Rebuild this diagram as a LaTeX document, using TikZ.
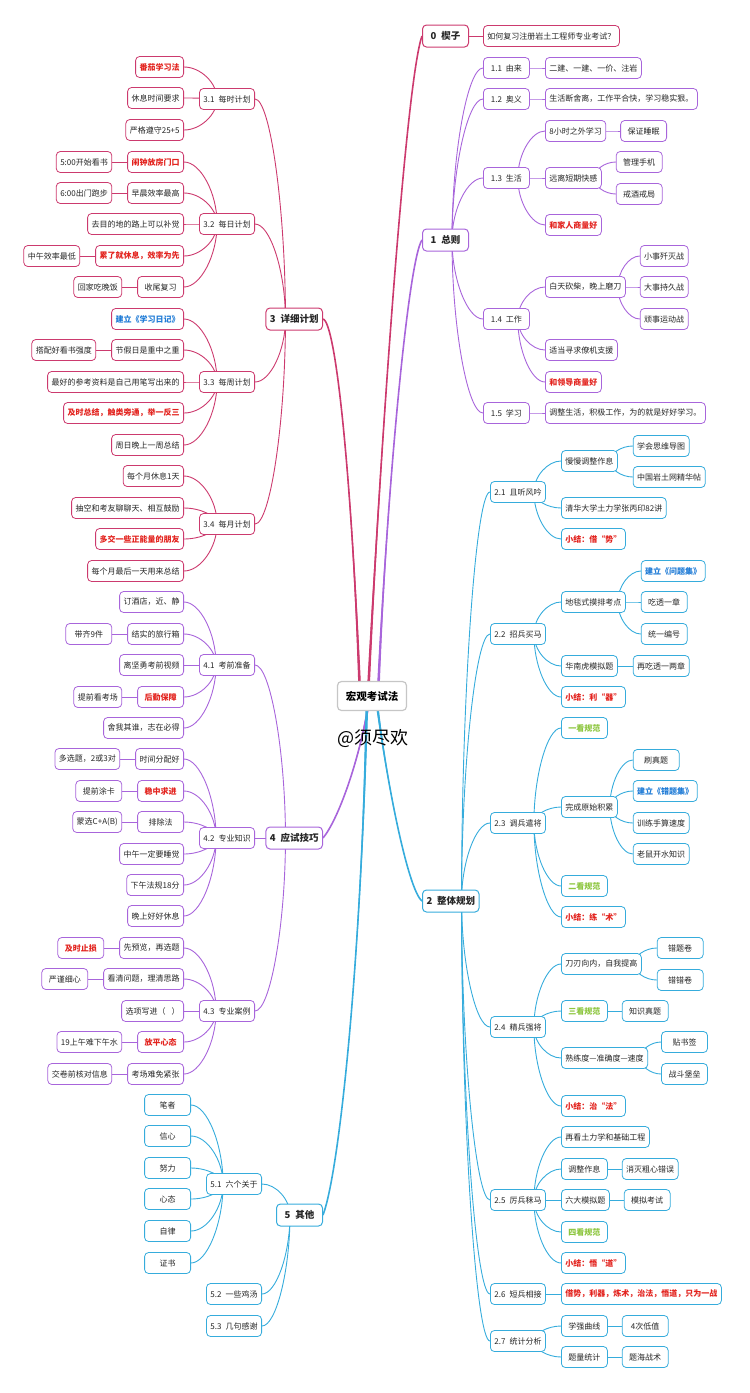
\documentclass[tikz,border=0pt]{standalone}
\usepackage{fontspec}
\setmainfont{Noto Sans CJK SC}
\usepackage{tikz}
\usetikzlibrary{positioning,calc,backgrounds}
\definecolor{rose}{HTML}{CC3A6E}
\definecolor{mauve}{HTML}{A865DB}
\definecolor{azur}{HTML}{36ACDC}
\definecolor{rouge}{HTML}{E3231E}
\definecolor{bleuT}{HTML}{1F7BD6}
\definecolor{vert}{HTML}{8DC63F}
\newcommand{\petit}{\fontsize{8}{9.5}\selectfont}
\tikzset{
  bloc/.style={rectangle, rounded corners=4pt, draw=#1, line width=0.8pt, fill=white,
               text=black!85, font=\petit, minimum height=21pt, minimum width=46pt, inner xsep=4pt},
  tete/.style={bloc=#1, line width=1pt, font=\fontsize{9.5}{10}\selectfont\bfseries, minimum height=22pt},
  centre/.style={rectangle, rounded corners=4pt, draw=gray!45, line width=1.2pt, fill=white,
               font=\fontsize{10.5}{11}\selectfont\bfseries, minimum width=69pt, minimum height=29pt},
  alerte/.style={text=rouge, font=\petit\bfseries},
  note/.style={text=bleuT, font=\petit\bfseries},
  norme/.style={text=vert, font=\petit\bfseries},
  lien/.style={draw=#1, line width=0.9pt, to path={let \p1=(\tikztostart), \p2=(\tikztotarget),
               \p3=($(\p1)!0.5!(\p2)$) in .. controls (\x1,\y3) and (\x3,\y2) .. (\tikztotarget)}},
}
% tronc effilé : couleur, départ, contrôle 1, contrôle 2, arrivée
\newcommand{\tronc}[5]{%
  \fill[#1] ($#2+(-1.4,0)$) .. controls #3 and #4 .. #5 .. controls #4 and #3 .. ($#2+(1.4,0)$) -- cycle;
  \draw[#1, line width=1.6pt] #2 .. controls #3 and #4 .. #5;}
\begin{document}
\begin{tikzpicture}[x=1pt, y=-1pt]
\useasboundingbox (0,0) rectangle (750,1393);
\node[centre] (racine) at (372,696) {宏观考试法};
\node[font=\fontsize{18}{18}\selectfont] (auteur) at (373,738) {@须尽欢};

% côté gauche
\begin{scope}[every node/.append style={anchor=east}]
  \node[tete=rose] (n3) at (323,319) {3\enspace 详细计划};
  \node[bloc=rose] (n31) at (255,99) {3.1\enspace 每时计划};
  \node[bloc=rose] (n32) at (255,224) {3.2\enspace 每日计划};
  \node[bloc=rose] (n33) at (255,382) {3.3\enspace 每周计划};
  \node[bloc=rose] (n34) at (255,524) {3.4\enspace 每月计划};
  \node[bloc=rose, alerte] (n31a) at (184,67) {番茄学习法};
  \node[bloc=rose] (n31b) at (184,98) {休息时间要求};
  \node[bloc=rose] (n31c) at (184,130) {严格遵守25+5};
  \node[bloc=rose, alerte] (n32a) at (184,162) {闹钟放房门口};
  \node[bloc=rose, left=15pt of n32a] (n32a1) {5:00开始看书};
  \node[bloc=rose] (n32b) at (184,193) {早晨效率最高};
  \node[bloc=rose, left=15pt of n32b] (n32b1) {6:00出门跑步};
  \node[bloc=rose] (n32c) at (184,224) {去目的地的路上可以补觉};
  \node[bloc=rose, alerte] (n32d) at (184,256) {累了就休息，效率为先};
  \node[bloc=rose, left=15pt of n32d] (n32d1) {中午效率最低};
  \node[bloc=rose] (n32e) at (184,287) {收尾复习};
  \node[bloc=rose, left=15pt of n32e] (n32e1) {回家吃晚饭};
  \node[bloc=rose, note] (n33a) at (184,319) {建立《学习日记》};
  \node[bloc=rose] (n33b) at (184,350) {节假日是重中之重};
  \node[bloc=rose, left=15pt of n33b] (n33b1) {搭配好看书强度};
  \node[bloc=rose] (n33c) at (184,382) {最好的参考资料是自己用笔写出来的};
  \node[bloc=rose, alerte] (n33d) at (184,413) {及时总结，触类旁通，举一反三};
  \node[bloc=rose] (n33e) at (184,445) {周日晚上一周总结};
  \node[bloc=rose] (n34a) at (184,476) {每个月休息1天};
  \node[bloc=rose] (n34b) at (184,508) {抽空和考友聊聊天、相互鼓励};
  \node[bloc=rose, alerte] (n34c) at (184,539) {多交一些正能量的朋友};
  \node[bloc=rose] (n34d) at (184,571) {每个月最后一天用来总结};

  \node[tete=mauve] (n4) at (323,838) {4\enspace 应试技巧};
  \node[bloc=mauve] (n41) at (255,665) {4.1\enspace 考前准备};
  \node[bloc=mauve] (n42) at (255,838) {4.2\enspace 专业知识};
  \node[bloc=mauve] (n43) at (255,1011) {4.3\enspace 专业案例};
  \node[bloc=mauve] (n41a) at (184,602) {订酒店，近、静};
  \node[bloc=mauve] (n41b) at (184,634) {结实的旅行箱};
  \node[bloc=mauve, left=15pt of n41b] (n41b1) {带齐9件};
  \node[bloc=mauve] (n41c) at (184,665) {离坚勇考前视频};
  \node[bloc=mauve, alerte] (n41d) at (184,697) {后勤保障};
  \node[bloc=mauve, left=15pt of n41d] (n41d1) {提前看考场};
  \node[bloc=mauve] (n41e) at (184,728) {舍我其谁，志在必得};
  \node[bloc=mauve] (n42a) at (184,759) {时间分配好};
  \node[bloc=mauve, left=15pt of n42a] (n42a1) {多选题，2或3对};
  \node[bloc=mauve, alerte] (n42b) at (184,791) {稳中求进};
  \node[bloc=mauve, left=15pt of n42b] (n42b1) {提前涂卡};
  \node[bloc=mauve] (n42c) at (184,822) {排除法};
  \node[bloc=mauve, left=15pt of n42c] (n42c1) {蒙选C+A(B)};
  \node[bloc=mauve] (n42d) at (184,854) {中午一定要睡觉};
  \node[bloc=mauve] (n42e) at (184,885) {下午法规18分};
  \node[bloc=mauve] (n42f) at (184,916) {晚上好好休息};
  \node[bloc=mauve] (n43a) at (184,948) {先预览，再选题};
  \node[bloc=mauve, alerte, left=15pt of n43a] (n43a1) {及时止损};
  \node[bloc=mauve] (n43b) at (184,979) {看清问题，理清思路};
  \node[bloc=mauve, left=15pt of n43b] (n43b1) {严谨细心};
  \node[bloc=mauve] (n43c) at (184,1011) {选项写进（\hspace{6pt}）};
  \node[bloc=mauve, alerte] (n43d) at (184,1042) {放平心态};
  \node[bloc=mauve, left=15pt of n43d] (n43d1) {19上午难下午水};
  \node[bloc=mauve] (n43e) at (184,1074) {考场难免紧张};
  \node[bloc=mauve, left=15pt of n43e] (n43e1) {交卷前核对信息};

  \node[tete=azur] (n5) at (323,1215) {5\enspace 其他};
  \node[bloc=azur] (n51) at (262,1184) {5.1\enspace 六个关于};
  \node[bloc=azur] (n52) at (262,1294) {5.2\enspace 一些鸡汤};
  \node[bloc=azur] (n53) at (262,1326) {5.3\enspace 几句感谢};
  \node[bloc=azur] (n51a) at (191,1105) {笔者};
  \node[bloc=azur] (n51b) at (191,1136) {信心};
  \node[bloc=azur] (n51c) at (191,1168) {努力};
  \node[bloc=azur] (n51d) at (191,1199) {心态};
  \node[bloc=azur] (n51e) at (191,1231) {自律};
  \node[bloc=azur] (n51f) at (191,1263) {证书};
\end{scope}

% côté droit
\begin{scope}[every node/.append style={anchor=west}]
  \node[tete=rose] (n0) at (422,36) {0\enspace 楔子};
  \node[bloc=rose, right=14pt of n0] (n01) {如何复习注册岩土工程师专业考试？};

  \node[tete=mauve] (n1) at (422,240) {1\enspace 总则};
  \node[bloc=mauve] (n11) at (483,68) {1.1\enspace 由来};
  \node[bloc=mauve] (n12) at (483,99) {1.2\enspace 奥义};
  \node[bloc=mauve] (n13) at (483,178) {1.3\enspace 生活};
  \node[bloc=mauve] (n14) at (483,319) {1.4\enspace 工作};
  \node[bloc=mauve] (n15) at (483,413) {1.5\enspace 学习};
  \node[bloc=mauve] (n11a) at (545,68) {二建、一建、一价、注岩};
  \node[bloc=mauve] (n12a) at (545,99) {生活断舍离，工作平合快，学习稳实狠。};
  \node[bloc=mauve] (n13a) at (545,131) {8小时之外学习};
  \node[bloc=mauve, right=14pt of n13a] (n13a1) {保证睡眠};
  \node[bloc=mauve] (n13b) at (545,178) {远离短期快感};
  \node[bloc=mauve] (n13b1) at ($(n13b.east)+(14,-16)$) {管理手机};
  \node[bloc=mauve] (n13b2) at ($(n13b.east)+(14,16)$) {戒酒戒局};
  \node[bloc=mauve, alerte] (n13c) at (545,225) {和家人商量好};
  \node[bloc=mauve] (n14a) at (545,287) {白天砍柴，晚上磨刀};
  \node[bloc=mauve] (n14a1) at ($(n14a.east)+(14,-31)$) {小事歼灭战};
  \node[bloc=mauve, right=14pt of n14a] (n14a2) {大事持久战};
  \node[bloc=mauve] (n14a3) at ($(n14a.east)+(14,32)$) {顽事运动战};
  \node[bloc=mauve] (n14b) at (545,350) {适当寻求僚机支援};
  \node[bloc=mauve, alerte] (n14c) at (545,382) {和领导商量好};
  \node[bloc=mauve] (n15a) at (545,413) {调整生活，积极工作，为的就是好好学习。};

  \node[tete=azur] (n2) at (422,901) {2\enspace 整体规划};
  \node[bloc=azur] (n21) at (490,492) {2.1\enspace 且听风吟};
  \node[bloc=azur] (n22) at (490,634) {2.2\enspace 招兵买马};
  \node[bloc=azur] (n23) at (490,823) {2.3\enspace 调兵遣将};
  \node[bloc=azur] (n24) at (490,1027) {2.4\enspace 精兵强将};
  \node[bloc=azur] (n25) at (490,1200) {2.5\enspace 厉兵秣马};
  \node[bloc=azur] (n26) at (490,1294) {2.6\enspace 短兵相接};
  \node[bloc=azur] (n27) at (490,1341) {2.7\enspace 统计分析};
  \node[bloc=azur] (n21a) at (561,461) {慢慢调整作息};
  \node[bloc=azur] (n21a1) at ($(n21a.east)+(15,-15)$) {学会思维导图};
  \node[bloc=azur] (n21a2) at ($(n21a.east)+(15,16)$) {中国岩土网精华帖};
  \node[bloc=azur] (n21b) at (561,508) {清华大学土力学张丙印82讲};
  \node[bloc=azur, alerte] (n21c) at (561,539) {小结：借“势”};
  \node[bloc=azur] (n22a) at (561,602) {地毯式摸排考点};
  \node[bloc=azur, note] (n22a1) at ($(n22a.east)+(15,-31)$) {建立《问题集》};
  \node[bloc=azur, right=15pt of n22a] (n22a2) {吃透一章};
  \node[bloc=azur] (n22a3) at ($(n22a.east)+(15,32)$) {统一编号};
  \node[bloc=azur] (n22b) at (561,666) {华南虎模拟题};
  \node[bloc=azur, right=15pt of n22b] (n22b1) {再吃透一两章};
  \node[bloc=azur, alerte] (n22c) at (561,697) {小结：利“器”};
  \node[bloc=azur, norme] (n23a) at (561,728) {一看规范};
  \node[bloc=azur] (n23b) at (561,807) {完成原始积累};
  \node[bloc=azur] (n23b1) at ($(n23b.east)+(15,-47)$) {刷真题};
  \node[bloc=azur, note] (n23b2) at ($(n23b.east)+(15,-16)$) {建立《错题集》};
  \node[bloc=azur] (n23b3) at ($(n23b.east)+(15,16)$) {训练手算速度};
  \node[bloc=azur] (n23b4) at ($(n23b.east)+(15,47)$) {老鼠开水知识};
  \node[bloc=azur, norme] (n23c) at (561,886) {二看规范};
  \node[bloc=azur, alerte] (n23d) at (561,917) {小结：练“术”};
  \node[bloc=azur] (n24a) at (561,964) {刀刃向内，自我提高};
  \node[bloc=azur] (n24a1) at ($(n24a.east)+(15,-16)$) {错题卷};
  \node[bloc=azur] (n24a2) at ($(n24a.east)+(15,16)$) {错错卷};
  \node[bloc=azur, norme] (n24b) at (561,1011) {三看规范};
  \node[bloc=azur, right=14pt of n24b] (n24b1) {知识真题};
  \node[bloc=azur] (n24c) at (561,1058) {熟练度—准确度—速度};
  \node[bloc=azur] (n24c1) at ($(n24c.east)+(13,-16)$) {贴书签};
  \node[bloc=azur] (n24c2) at ($(n24c.east)+(13,16)$) {战斗堡垒};
  \node[bloc=azur, alerte] (n24d) at (561,1106) {小结：治“法”};
  \node[bloc=azur] (n25a) at (561,1137) {再看土力学和基础工程};
  \node[bloc=azur] (n25b) at (561,1169) {调整作息};
  \node[bloc=azur, right=14pt of n25b] (n25b1) {消灭粗心错误};
  \node[bloc=azur] (n25c) at (561,1200) {六大模拟题};
  \node[bloc=azur, right=14pt of n25c] (n25c1) {模拟考试};
  \node[bloc=azur, norme] (n25d) at (561,1232) {四看规范};
  \node[bloc=azur, alerte] (n25e) at (561,1263) {小结：悟“道”};
  \node[bloc=azur, alerte] (n26a) at (561,1294) {借势，利器，炼术，治法，悟道，只为一战};
  \node[bloc=azur] (n27a) at (561,1326) {学强曲线};
  \node[bloc=azur, right=14pt of n27a] (n27a1) {4次低值};
  \node[bloc=azur] (n27b) at (561,1357) {题量统计};
  \node[bloc=azur, right=14pt of n27b] (n27b1) {题海战术};
\end{scope}

\begin{scope}[on background layer]
  \tronc{rose}{([xshift=-4pt]racine.center)}{(380,450)}{(406,80)}{(n0.west)}
  \tronc{rose}{([xshift=-12pt]racine.center)}{(352,480)}{(336,322)}{(n3.east)}
  \tronc{mauve}{([xshift=6pt]racine.center)}{(386,500)}{(408,260)}{(n1.west)}
  \tronc{mauve}{([xshift=-2pt]racine.center)}{(360,760)}{(338,820)}{(n4.east)}
  \tronc{azur}{([xshift=4pt]racine.center)}{(386,780)}{(408,890)}{(n2.west)}
  \tronc{azur}{([xshift=-5pt]racine.center)}{(362,950)}{(340,1170)}{(n5.east)}
  % niveau 2
  \foreach \fils in {n31,n32,n33,n34} \draw[lien=rose] ([xshift=20pt]n3.west) to (\fils.east);
  \foreach \fils in {n41,n42,n43} \draw[lien=mauve] ([xshift=20pt]n4.west) to (\fils.east);
  \foreach \fils in {n51,n52,n53} \draw[lien=azur] ([xshift=14pt]n5.west) to (\fils.east);
  \draw[lien=rose] (n0) -- (n01);
  \foreach \fils in {n11,n12,n13,n14,n15} \draw[lien=mauve] ([xshift=-17pt]n1.east) to (\fils.west);
  \foreach \fils in {n21,n22,n23,n24,n25,n26,n27} \draw[lien=azur] ([xshift=-18pt]n2.east) to (\fils.west);
  % niveau 3
  \foreach \mere/\liste in {n31/{a,b,c}, n32/{a,b,c,d,e}, n33/{a,b,c,d,e}, n34/{a,b,c,d}}
    \foreach \fils in \liste \draw[lien=rose] ([xshift=18pt]\mere.west) to (\mere\fils.east);
  \foreach \mere/\liste in {n41/{a,b,c,d,e}, n42/{a,b,c,d,e,f}, n43/{a,b,c,d,e}}
    \foreach \fils in \liste \draw[lien=mauve] ([xshift=17pt]\mere.west) to (\mere\fils.east);
  \foreach \fils in {a,b,c,d,e,f} \draw[lien=azur] ([xshift=17pt]n51.west) to (n51\fils.east);
  \foreach \mere/\liste in {n11/{a}, n12/{a}, n13/{a,b,c}, n14/{a,b,c}, n15/{a}}
    \foreach \fils in \liste \draw[lien=mauve] ([xshift=-12pt]\mere.east) to (\mere\fils.west);
  \foreach \mere/\liste in {n21/{a,b,c}, n22/{a,b,c}, n23/{a,b,c,d}, n24/{a,b,c,d}, n25/{a,b,c,d,e}, n26/{a}, n27/{a,b}}
    \foreach \fils in \liste \draw[lien=azur] ([xshift=-12pt]\mere.east) to (\mere\fils.west);
  % niveau 4
  \foreach \mere in {n32a,n32b,n32d,n32e,n33b} \draw[lien=rose] (\mere) -- (\mere1);
  \foreach \mere in {n41b,n41d,n42a,n42b,n42c,n43a,n43b,n43d,n43e} \draw[lien=mauve] (\mere) -- (\mere1);
  \foreach \mere/\liste in {n13a/{1}, n13b/{1,2}, n14a/{1,2,3}}
    \foreach \fils in \liste \draw[lien=mauve] ([xshift=-8pt]\mere.east) to (\mere\fils.west);
  \foreach \mere/\liste in {n21a/{1,2}, n22a/{1,2,3}, n22b/{1}, n23b/{1,2,3,4}, n24a/{1,2}, n24b/{1}, n24c/{1,2}, n25b/{1}, n25c/{1}, n27a/{1}, n27b/{1}}
    \foreach \fils in \liste \draw[lien=azur] ([xshift=-8pt]\mere.east) to (\mere\fils.west);
\end{scope}
\end{tikzpicture}
\end{document}
